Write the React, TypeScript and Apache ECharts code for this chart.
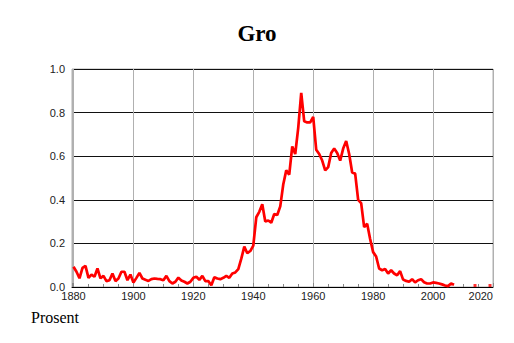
import React, { useEffect, useRef } from "react";
import * as echarts from "echarts";

const titleText = "Gro";
const yAxisName = "Prosent";
const startYear = 1880;
const values = [
  0.093, 0.07, 0.04, 0.088, 0.097, 0.042, 0.057, 0.047, 0.085, 0.04,
  0.051, 0.027, 0.031, 0.062, 0.027, 0.039, 0.07, 0.07, 0.031, 0.057,
  0.02, 0.042, 0.065, 0.039, 0.033, 0.028, 0.036, 0.039, 0.037, 0.036,
  0.031, 0.051, 0.027, 0.016, 0.024, 0.043, 0.03, 0.024, 0.016, 0.024,
  0.042, 0.047, 0.033, 0.051, 0.027, 0.027, 0.008, 0.045, 0.039, 0.036,
  0.042, 0.051, 0.042, 0.062, 0.067, 0.082, 0.13, 0.185, 0.155, 0.165,
  0.19, 0.32, 0.345, 0.38, 0.3, 0.305, 0.295, 0.335, 0.33, 0.37,
  0.47, 0.535, 0.515, 0.645, 0.61, 0.73, 0.89, 0.76, 0.755, 0.755,
  0.78, 0.63, 0.61, 0.58, 0.535, 0.55, 0.615, 0.635, 0.615, 0.58,
  0.635, 0.67, 0.61, 0.525, 0.52, 0.4, 0.385, 0.275, 0.29, 0.22,
  0.16, 0.14, 0.085, 0.077, 0.083, 0.062, 0.077, 0.062, 0.054, 0.073,
  0.034, 0.028, 0.024, 0.036, 0.021, 0.031, 0.036, 0.022, 0.016, 0.016,
  0.021, 0.019, 0.016, 0.012, 0.007, 0.004, 0.016, 0.01,
];
const isolatedYears = [2014, 2019];
const isolatedValues = [0.007, 0.007];
const xMin = 1879.5;
const xMax = 2020;
const yTicks = [0, 0.2, 0.4, 0.6, 0.8, 1.0];

export default function App() {
  const ref = useRef<HTMLDivElement>(null);
  useEffect(() => {
    if (!ref.current) return;
    const chart = echarts.init(ref.current, undefined, { renderer: "svg" });
    const lineData = values.map((v, i) => [startYear + i, v]);
    const pointData = isolatedYears.map((y, i) => [y, isolatedValues[i]]);
    const labelFont = "Liberation Sans";
    chart.setOption({
      animation: false,
      backgroundColor: "#fff",
      title: {
        text: titleText,
        left: "center",
        top: 17,
        textStyle: {
          fontFamily: "Liberation Serif",
          fontWeight: "bold",
          fontSize: 23,
          color: "#000",
        },
      },
      grid: {
        left: 72,
        right: 21,
        top: 69,
        bottom: 56,
        show: true,
        borderColor: "#b0b0b0",
        borderWidth: 1,
        backgroundColor: "transparent",
      },
      xAxis: {
        type: "value",
        min: xMin,
        max: xMax,
        minInterval: 20,
        maxInterval: 20,
        axisLine: { show: true, lineStyle: { color: "#000", width: 1 } },
        axisTick: { show: true, inside: true, length: 4, lineStyle: { color: "#888" } },
        minorTick: { show: true, splitNumber: 4, length: 3, lineStyle: { color: "#888" } },
        splitLine: { show: true, lineStyle: { color: "#b0b0b0", width: 1 } },
        axisLabel: {
          fontFamily: labelFont,
          fontSize: 11,
          color: "#222",
          margin: 3,
          alignMaxLabel: "right",
          formatter: (v: number) => (Math.abs(v % 20) < 1e-9 ? String(v) : ""),
        },
      },
      yAxis: {
        type: "value",
        min: 0,
        max: 1,
        interval: 0.2,
        axisLine: { show: false },
        axisTick: { show: false },
        splitLine: { show: true, lineStyle: { color: "#111", width: 1 } },
        axisLabel: {
          fontFamily: labelFont,
          fontSize: 11,
          color: "#222",
          margin: 7,
          formatter: (v: number) => {
            const t = yTicks.find((k) => Math.abs(k - v) < 1e-9);
            return (t !== undefined ? t : v).toFixed(1);
          },
        },
      },
      graphic: [
        {
          type: "text",
          left: 31,
          top: 309,
          style: {
            text: yAxisName,
            fontFamily: "Liberation Serif",
            fontSize: 16,
            fill: "#000",
          },
        },
      ],
      series: [
        {
          type: "line",
          data: lineData,
          showSymbol: false,
          lineStyle: { color: "#ff0000", width: 2.7 },
          itemStyle: { color: "#ff0000" },
          z: 5,
        },
        {
          type: "scatter",
          data: pointData,
          symbol: "rect",
          symbolSize: 3,
          itemStyle: { color: "#ff0000" },
          z: 5,
        },
      ],
    });
    return () => chart.dispose();
  }, []);
  return (
    <div
      ref={ref}
      style={{ position: "absolute", left: 0, top: 0, width: 514, height: 343 }}
    />
  );
}
